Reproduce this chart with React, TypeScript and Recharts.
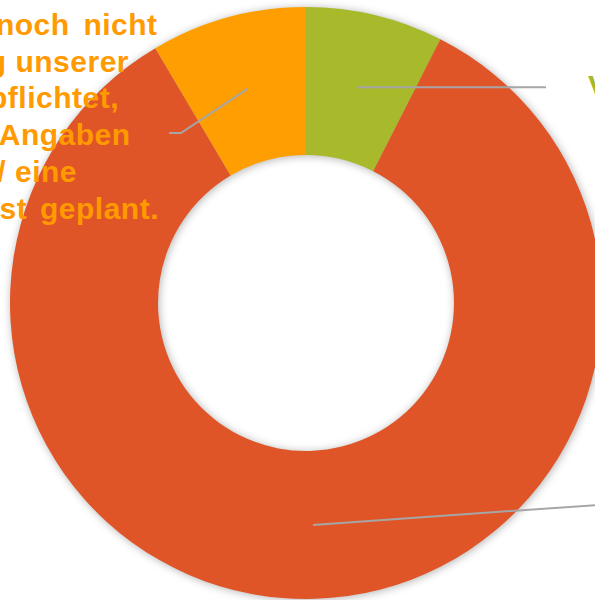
import React from 'react';
import { PieChart, Pie, Cell } from 'recharts';

const segments = ['V', 'Rest', 'geplant'];
const shares = [7.5, 84, 8.5];
const sliceColors = ['#A8B92B', '#E05527', '#FF9E00'];
const labelColors = ['#A5B82A', '#E05527', '#FF9A00'];

// only the parts of the labels that fall inside the picture
const greenLabel = ['V'];
const orangeLabel = ['noch nicht', 'g unserer', 'pflichtet,', 'Angaben', '/ eine', 'st geplant.'];

const data = segments.map((name, i) => ({ name, value: shares[i] }));

const RAD = Math.PI / 180;
const FONT = '"Liberation Sans", Arial, sans-serif';

// right edge and word gap of each visible label line
const orangeLineEnds = [157.6, 129, 119, 130.6, 77, 159];
const orangeWordGaps = [5, 0, 0, 0, 0, 4];

const renderLine = (props: any) => {
  const { cx, cy, midAngle, innerRadius, outerRadius, index } = props;
  const r = (innerRadius + outerRadius) / 2;
  const sx = cx + r * Math.cos(-midAngle * RAD);
  const sy = cy + r * Math.sin(-midAngle * RAD);
  let pts: number[][] = [];
  if (index === 0) pts = [[sx, sy], [546, sy]];
  if (index === 1) pts = [[sx, sy], [640, 502]];
  if (index === 2) pts = [[sx, sy], [181, 133], [169, 133]];
  return (
    <polyline
      key={`line-${index}`}
      points={pts.map((p) => p.join(',')).join(' ')}
      fill="none"
      stroke="#A6A6A6"
      strokeWidth={2}
    />
  );
};

const renderLabel = (props: any) => {
  const { index } = props;
  if (index === 0) {
    return (
      <text key="lbl-0" x={588} y={96} fill={labelColors[0]} fontFamily={FONT} fontWeight="bold" fontSize={30} style={{ letterSpacing: 0.5 }}>
        {greenLabel[0]}
      </text>
    );
  }
  if (index === 2) {
    return (
      <text key="lbl-2" fill={labelColors[2]} fontFamily={FONT} fontWeight="bold" fontSize={30} style={{ letterSpacing: 0.5 }} textAnchor="end">
        {orangeLabel.map((line, i) => (
          <tspan key={i} x={orangeLineEnds[i]} y={34.7 + i * 36.8} style={{ wordSpacing: orangeWordGaps[i] }}>
            {line}
          </tspan>
        ))}
      </text>
    );
  }
  return <g key={`lbl-${index}`} />;
};

const App = () => {
  return (
    <div style={{ position: 'absolute', left: 0, top: 0, width: 595, height: 600, overflow: 'hidden', background: '#fff' }}>
      <svg width={0} height={0} style={{ position: 'absolute' }}>
        <defs>
          <filter id="ringShadow" x="-20%" y="-20%" width="140%" height="140%">
            <feGaussianBlur stdDeviation={4} />
          </filter>
        </defs>
      </svg>
      <PieChart width={595} height={600} margin={{ top: 0, right: 0, bottom: 0, left: 0 }}>
        <Pie
          data={data}
          dataKey="value"
          nameKey="name"
          cx={307}
          cy={304}
          innerRadius={148}
          outerRadius={296}
          startAngle={90}
          endAngle={-270}
          stroke="none"
          isAnimationActive={false}
          label={false}
          labelLine={false}
        >
          {data.map((_, i) => (
            <Cell key={`sh-${i}`} fill="#000" fillOpacity={0.3} filter="url(#ringShadow)" />
          ))}
        </Pie>
        <Pie
          data={data}
          dataKey="value"
          nameKey="name"
          cx={306}
          cy={303}
          innerRadius={148}
          outerRadius={296}
          startAngle={90}
          endAngle={-270}
          stroke="none"
          isAnimationActive={false}
          label={renderLabel}
          labelLine={renderLine}
        >
          {data.map((_, i) => (
            <Cell key={`cell-${i}`} fill={sliceColors[i]} />
          ))}
        </Pie>
      </PieChart>
    </div>
  );
};

export default App;
